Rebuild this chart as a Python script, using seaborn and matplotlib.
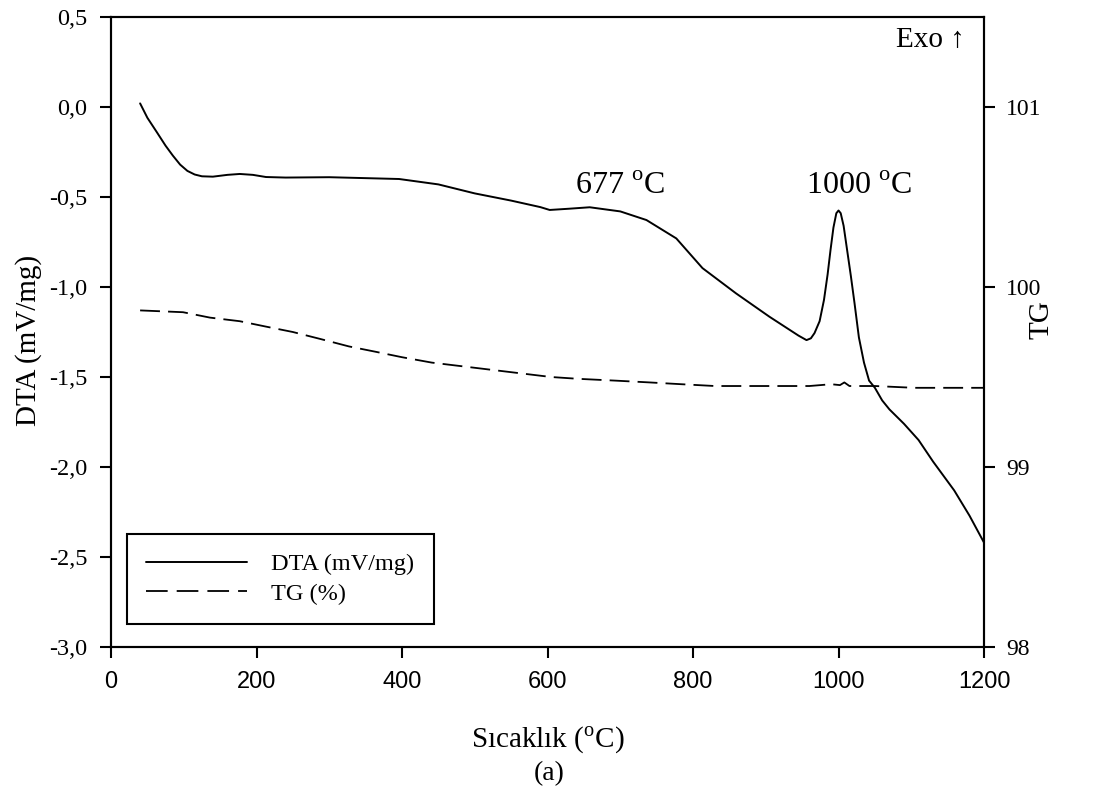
import matplotlib
matplotlib.use("Agg")
import matplotlib.pyplot as plt
import seaborn as sns
import pandas as pd
from matplotlib.lines import Line2D

# DTA curve (left axis, mV/mg)
dta_temp = [40, 50, 63, 75, 85, 95, 105, 115, 125, 140, 160, 177, 195, 213, 240,
            300, 396, 450, 500, 550, 590, 603, 630, 658, 700, 736, 777, 813, 859,
            905, 945, 956, 962, 967, 974, 980, 985, 989, 993, 997, 1000, 1003,
            1007, 1012, 1017, 1022, 1028, 1035, 1042, 1050, 1060, 1070, 1090,
            1110, 1130, 1159, 1180, 1200]
dta_val = [0.02, -0.06, -0.14, -0.215, -0.27, -0.32, -0.355, -0.375, -0.385,
           -0.387, -0.377, -0.372, -0.377, -0.389, -0.392, -0.39, -0.40, -0.43,
           -0.48, -0.52, -0.556, -0.572, -0.565, -0.557, -0.58, -0.628, -0.73,
           -0.895, -1.035, -1.165, -1.27, -1.295, -1.285, -1.256, -1.19, -1.072,
           -0.93, -0.794, -0.67, -0.59, -0.575, -0.59, -0.66, -0.80, -0.94,
           -1.09, -1.28, -1.42, -1.52, -1.56, -1.63, -1.68, -1.76, -1.85, -1.97,
           -2.13, -2.27, -2.42]

# TG curve (right axis, %)
tg_temp = [40, 99, 136, 177, 213, 250, 289, 327, 364, 400, 441, 482, 523, 564, 605,
           642, 693, 740, 784, 830, 875, 920, 960, 990, 1002, 1008, 1015, 1050,
           1104, 1150, 1200]
tg_val = [99.87, 99.86, 99.83, 99.81, 99.78, 99.75, 99.71, 99.67, 99.64, 99.61,
          99.58, 99.56, 99.54, 99.52, 99.50, 99.49, 99.48, 99.47, 99.46, 99.45,
          99.45, 99.45, 99.45, 99.46, 99.455, 99.47, 99.45, 99.45, 99.44, 99.44,
          99.44]

x_ticks = [0, 200, 400, 600, 800, 1000, 1200]
left_ticks = [0.5, 0.0, -0.5, -1.0, -1.5, -2.0, -2.5, -3.0]
right_ticks = [98, 99, 100, 101]

sns.set_style("ticks")
plt.rcParams['font.family'] = ['Liberation Serif', 'DejaVu Serif']
plt.rcParams['mathtext.fontset'] = 'custom'
plt.rcParams['mathtext.rm'] = 'Liberation Serif'
plt.rcParams['axes.linewidth'] = 1.5
for key in ['text.color', 'axes.labelcolor', 'xtick.color', 'ytick.color',
            'axes.edgecolor']:
    plt.rcParams[key] = 'black'

df_dta = pd.DataFrame({"T": dta_temp, "DTA": dta_val})
df_tg = pd.DataFrame({"T": tg_temp, "TG": tg_val})

fig = plt.figure(figsize=(10.98, 7.94), dpi=100)
ax = fig.add_axes([0.1011, 0.1851, 0.8962 - 0.1011, 0.9786 - 0.1851])
ax2 = ax.twinx()

sns.lineplot(data=df_dta, x="T", y="DTA", ax=ax, color="black", lw=1.4)
sns.lineplot(data=df_tg, x="T", y="TG", ax=ax2, color="black", lw=1.3,
             dashes=False, linestyle=(0, (11, 4.5)))

ax.set_xlim(0, 1200)
ax.set_ylim(-3.0, 0.5)
ax2.set_ylim(98, 101.5)

ax.set_xticks(x_ticks)
ax.set_xticklabels([str(v) for v in x_ticks], family='Liberation Sans', fontsize=17)
ax.set_yticks(left_ticks)
ax.set_yticklabels([f"{v:.1f}".replace('.', ',') for v in left_ticks], fontsize=17.5)
ax2.set_yticks(right_ticks)
ax2.set_yticklabels([str(v) for v in right_ticks], fontsize=17)

ax.tick_params(axis='x', direction='out', length=8, width=1.5, pad=9)
ax.tick_params(axis='y', direction='out', length=8, width=1.5, pad=9)
ax2.tick_params(axis='y', direction='out', length=8, width=1.5, pad=8)

for a in (ax, ax2):
    for s in a.spines.values():
        s.set_visible(True)
        s.set_linewidth(1.5)
        s.set_color('black')

ax.set_xlabel("Sıcaklık ($^{\\mathrm{o}}$C)", fontsize=21, va='baseline')
ax.xaxis.set_label_coords(0.5, -0.1587)
ax.set_ylabel("DTA (mV/mg)", fontsize=21, va='center')
ax.yaxis.set_label_coords(-0.095, 0.486)
ax2.set_ylabel("TG", fontsize=21, va='center', rotation=90)
ax2.yaxis.set_label_coords(1.066, 0.519)
fig.text(0.5, 1 - 774 / 794, "(a)", fontsize=20, ha='center', va='center')

ax.text(699, -0.44, "677 $^{\\mathrm{o}}$C", fontsize=23, ha='center', va='center')
ax.text(1028, -0.44, "1000 $^{\\mathrm{o}}$C", fontsize=23, ha='center', va='center')
ax.text(0.978, 0.963, "Exo \u2191", transform=ax.transAxes, fontsize=21,
        ha='right', va='center', family=['Liberation Serif', 'DejaVu Sans'])

handles = [Line2D([], [], color='black', lw=1.4),
           Line2D([], [], color='black', lw=1.3, linestyle=(0, (12, 5)))]
leg = ax.legend(handles, ["DTA (mV/mg)", "TG (%)"], loc='lower left',
                bbox_to_anchor=(0.018, 0.0365), fontsize=17.5, frameon=True,
                fancybox=False, edgecolor='black', handlelength=4.15,
                handletextpad=1.0, borderpad=0.8, labelspacing=0.3,
                borderaxespad=0)
leg.get_frame().set_linewidth(1.5)
leg.get_frame().set_alpha(1)

fig.savefig("out.png", dpi=100)
